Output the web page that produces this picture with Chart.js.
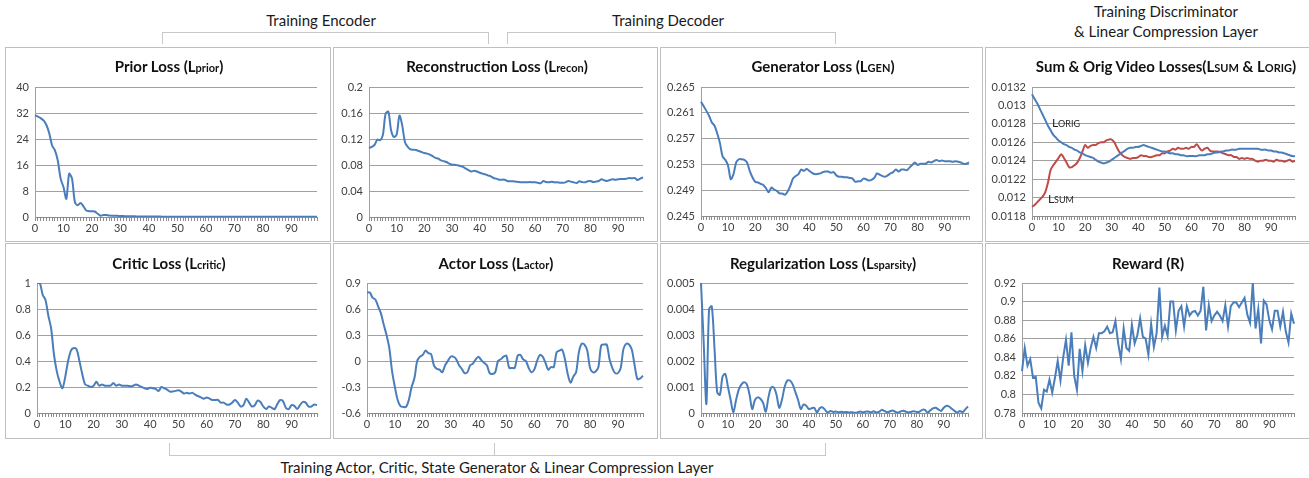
<!DOCTYPE html>
<html>
<head>
<meta charset="utf-8">
<script src="https://cdn.jsdelivr.net/npm/chart.js@4/dist/chart.umd.min.js"></script>
<style>
  body { margin: 0; width: 1309px; height: 478px; background: #fff; position: relative; overflow: hidden; font-family: Lato, sans-serif; color: #1a1a1a; }
  .panel { position: absolute; border: 1px solid #bfbfbf; box-sizing: border-box; background: #fff; }
  .panel canvas { position: absolute; left: 0; top: 0; }
  .ttl { position: absolute; transform: translateX(-50%); white-space: nowrap; font-weight: bold; font-size: 15px; line-height: 18px; color: #111; }
  .ttl span { font-size: 11px; }
  .grp { position: absolute; transform: translateX(-50%); white-space: nowrap; text-align: center; font-size: 15px; line-height: 20px; color: #1a1a1a; }
  .br { position: absolute; border: 1px solid #c8c8c8; box-sizing: border-box; }
</style>
</head>
<body>

<div class="grp" style="left:321px; top:10px;">Training Encoder</div>
<div class="grp" style="left:668px; top:10px;">Training Decoder</div>
<div class="grp" style="left:1166px; top:1px;">Training Discriminator<br>&amp; Linear Compression Layer</div>
<div class="br" style="left:162px; top:32px; width:327px; height:12px; border-bottom:none;"></div>
<div class="br" style="left:507px; top:32px; width:329px; height:12px; border-bottom:none;"></div>

<div class="panel" style="left:5px; top:47px; width:326px; height:195px;"><canvas id="c1"></canvas><div class="ttl" style="left:163px; top:9px;">Prior Loss (L<span>prior</span>)</div></div>
<div class="panel" style="left:333px; top:47px; width:325px; height:195px;"><canvas id="c2"></canvas><div class="ttl" style="left:163px; top:9px;">Reconstruction Loss (L<span>recon</span>)</div></div>
<div class="panel" style="left:660px; top:47px; width:323px; height:195px;"><canvas id="c3"></canvas><div class="ttl" style="left:162px; top:9px;">Generator Loss (L<span>GEN</span>)</div></div>
<div class="panel" style="left:985px; top:47px; width:325px; height:195px;"><canvas id="c4"></canvas><div class="ttl" style="left:180px; top:9px;">Sum &amp; Orig Video Losses(L<span>SUM</span> &amp; L<span>ORIG</span>)</div></div>

<div class="panel" style="left:5px; top:243px; width:326px; height:196px;"><canvas id="c5"></canvas><div class="ttl" style="left:163px; top:10px;">Critic Loss (L<span>critic</span>)</div></div>
<div class="panel" style="left:333px; top:243px; width:325px; height:196px;"><canvas id="c6"></canvas><div class="ttl" style="left:162px; top:10px;">Actor Loss (L<span>actor</span>)</div></div>
<div class="panel" style="left:660px; top:243px; width:323px; height:196px;"><canvas id="c7"></canvas><div class="ttl" style="left:162px; top:10px;">Regularization Loss (L<span>sparsity</span>)</div></div>
<div class="panel" style="left:985px; top:243px; width:325px; height:196px;"><canvas id="c8"></canvas><div class="ttl" style="left:162px; top:10px;">Reward (R)</div></div>

<div class="br" style="left:169px; top:443px; width:657px; height:13px; border-top:none;"></div>
<div class="br" style="left:494px; top:443px; width:1px; height:13px; border-width:0 0 0 1px;"></div>
<div class="grp" style="left:497px; top:457px;">Training Actor, Critic, State Generator &amp; Linear Compression Layer</div>

<script>
// epochs 0..99, labelled every 10
const epochs = Array.from({ length: 100 }, (_, i) => i);
const xTickLabels = [0, 10, 20, 30, 40, 50, 60, 70, 80, 90];

const priorTicks = [0, 8, 16, 24, 32, 40];
const reconTicks = [0, 0.04, 0.08, 0.12, 0.16, 0.2];
const genTicks = [0.245, 0.249, 0.253, 0.257, 0.261, 0.265];
const videoTicks = [0.0118, 0.012, 0.0122, 0.0124, 0.0126, 0.0128, 0.013, 0.0132];
const criticTicks = [0, 0.2, 0.4, 0.6, 0.8, 1];
const actorTicks = [-0.6, -0.3, 0, 0.3, 0.6, 0.9];
const sparsityTicks = [0, 0.001, 0.002, 0.003, 0.004, 0.005];
const rewardTicks = [0.78, 0.8, 0.82, 0.84, 0.86, 0.88, 0.9, 0.92];

const priorLoss = [
  31.3, 30.9, 30.4, 29.7, 28.3, 25.8, 22.0, 20.5, 17.4, 11.8,
  9.2, 5.6, 13.3, 11.8, 4.6, 3.6, 4.3, 3.3, 2.0, 1.8,
  1.8, 1.7, 1.0, 0.4, 0.6, 0.6, 0.45, 0.4, 0.4, 0.35,
  0.3, 0.28, 0.25, 0.22, 0.2, 0.2, 0.18, 0.16, 0.15, 0.15,
  0.14, 0.13, 0.13, 0.12, 0.12, 0.11, 0.11, 0.1, 0.1, 0.1,
  0.09, 0.09, 0.09, 0.08, 0.08, 0.08, 0.08, 0.07, 0.07, 0.07,
  0.07, 0.07, 0.06, 0.06, 0.06, 0.06, 0.06, 0.06, 0.05, 0.05,
  0.05, 0.05, 0.05, 0.05, 0.05, 0.05, 0.05, 0.05, 0.05, 0.05,
  0.04, 0.04, 0.04, 0.04, 0.04, 0.04, 0.04, 0.04, 0.04, 0.04,
  0.04, 0.04, 0.04, 0.04, 0.04, 0.04, 0.04, 0.04, 0.04, 0.04
];

const reconLoss = [
  0.106, 0.108, 0.111, 0.119, 0.118, 0.126, 0.159, 0.162, 0.133, 0.123,
  0.127, 0.156, 0.141, 0.115, 0.108, 0.104, 0.1035, 0.103, 0.1015, 0.100,
  0.0985, 0.0975, 0.096, 0.0935, 0.091, 0.090, 0.087, 0.086, 0.0846, 0.082,
  0.0805, 0.0805, 0.0795, 0.0785, 0.077, 0.0745, 0.072, 0.070, 0.071, 0.070,
  0.068, 0.0667, 0.0656, 0.064, 0.0626, 0.060, 0.059, 0.0574, 0.0574, 0.0574,
  0.0554, 0.0549, 0.0549, 0.0544, 0.0538, 0.0533, 0.0533, 0.0533, 0.0538, 0.0533,
  0.0533, 0.0528, 0.0518, 0.0554, 0.0538, 0.0533, 0.0544, 0.0533, 0.0533, 0.0528,
  0.0528, 0.0533, 0.0554, 0.0544, 0.0533, 0.0523, 0.0549, 0.0538, 0.0533, 0.0549,
  0.0554, 0.0538, 0.0544, 0.0554, 0.058, 0.0564, 0.0554, 0.0569, 0.058, 0.0574,
  0.058, 0.0585, 0.0585, 0.059, 0.060, 0.0595, 0.060, 0.057, 0.059, 0.061
];

const genLoss = [
  0.2627, 0.2620, 0.2613, 0.2605, 0.2595, 0.2590, 0.2578, 0.2563, 0.2542, 0.2537,
  0.2528, 0.2507, 0.2515, 0.2533, 0.2538, 0.2538, 0.2537, 0.2533, 0.2520, 0.2510,
  0.2503, 0.2502, 0.2500, 0.2498, 0.2493, 0.2487, 0.2494, 0.2491, 0.2489, 0.2485,
  0.2485, 0.2483, 0.2488, 0.2497, 0.2508, 0.2512, 0.2515, 0.2522, 0.2520, 0.2523,
  0.2520, 0.2517, 0.2515, 0.2515, 0.2516, 0.2518, 0.2519, 0.2519, 0.2517, 0.2518,
  0.2513, 0.2511, 0.2511, 0.2510, 0.2510, 0.2509, 0.2508, 0.2503, 0.2504, 0.2504,
  0.2508, 0.2507, 0.2505, 0.2506, 0.2509, 0.2516, 0.2514, 0.2512, 0.2511, 0.2513,
  0.2516, 0.2518, 0.2522, 0.2519, 0.2522, 0.2522, 0.2521, 0.2525, 0.2529, 0.2533,
  0.2529, 0.2531, 0.2531, 0.2531, 0.2534, 0.2533, 0.2535, 0.2537, 0.2535, 0.2536,
  0.2535, 0.2535, 0.2535, 0.2534, 0.2535, 0.2534, 0.2533, 0.2531, 0.2531, 0.2533
];

const origLoss = [
  0.01312, 0.01307, 0.01302, 0.01296, 0.01290, 0.01284, 0.01278, 0.01273, 0.01268, 0.01265,
  0.01262, 0.01260, 0.01258, 0.01257, 0.01255, 0.01254, 0.01252, 0.01251, 0.01249, 0.01248,
  0.01246, 0.01245, 0.01244, 0.01243, 0.01241, 0.01239, 0.01238, 0.01237, 0.01238, 0.01239,
  0.01241, 0.01243, 0.01245, 0.01247, 0.01249, 0.01251, 0.01253, 0.01254, 0.01254, 0.01255,
  0.01255, 0.01256, 0.01257, 0.01256, 0.01255, 0.01254, 0.01253, 0.01252, 0.01251, 0.01250,
  0.01250, 0.01249, 0.01248, 0.01248, 0.01247, 0.01247, 0.01246, 0.01246, 0.01245, 0.01245,
  0.01245, 0.01245, 0.01245, 0.01246, 0.01246, 0.01246, 0.01247, 0.01247, 0.01248, 0.01249,
  0.01249, 0.01250, 0.01250, 0.01251, 0.01251, 0.01252, 0.01252, 0.01252, 0.01253, 0.01253,
  0.01253, 0.01253, 0.01253, 0.01253, 0.01253, 0.01253, 0.01252, 0.01252, 0.01252, 0.01251,
  0.01251, 0.01250, 0.01250, 0.01249, 0.01249, 0.01248, 0.01247, 0.01246, 0.01245, 0.01245
];

const sumLoss = [
  0.01190, 0.01192, 0.01195, 0.01198, 0.01201, 0.01206, 0.01216, 0.01230, 0.01235, 0.01239,
  0.01243, 0.01247, 0.01243, 0.01238, 0.01233, 0.01233, 0.01235, 0.01238, 0.01243, 0.01250,
  0.01257, 0.01254, 0.01256, 0.01257, 0.01257, 0.01259, 0.01260, 0.01260, 0.01262, 0.01263,
  0.01263, 0.01260, 0.01254, 0.01249, 0.01246, 0.01244, 0.01243, 0.01242, 0.01243, 0.01243,
  0.01244, 0.01246, 0.01245, 0.01245, 0.01244, 0.01244, 0.01245, 0.01246, 0.01246, 0.01248,
  0.01248, 0.01250, 0.01251, 0.01253, 0.01252, 0.01254, 0.01253, 0.01253, 0.01254, 0.01253,
  0.01255, 0.01255, 0.01258, 0.01254, 0.01251, 0.01253, 0.01254, 0.01251, 0.01250, 0.01250,
  0.01250, 0.01249, 0.01248, 0.01247, 0.01246, 0.01246, 0.01244, 0.01244, 0.01242, 0.01243,
  0.01242, 0.01243, 0.01242, 0.01242, 0.01240, 0.01239, 0.01240, 0.01240, 0.01241, 0.01240,
  0.01240, 0.01239, 0.01241, 0.01240, 0.01240, 0.01239, 0.01240, 0.01241, 0.01239, 0.01240
];

const criticLoss = [
  1.0, 1.0, 0.91, 0.87, 0.75, 0.65, 0.45, 0.32, 0.24, 0.19,
  0.28, 0.40, 0.48, 0.50, 0.49, 0.40, 0.30, 0.22, 0.21, 0.20,
  0.21, 0.24, 0.21, 0.22, 0.21, 0.21, 0.21, 0.23, 0.21, 0.22,
  0.21, 0.21, 0.21, 0.205, 0.21, 0.22, 0.21, 0.20, 0.19, 0.185,
  0.195, 0.19, 0.185, 0.17, 0.20, 0.19, 0.18, 0.165, 0.165, 0.17,
  0.175, 0.165, 0.15, 0.155, 0.15, 0.155, 0.14, 0.13, 0.12, 0.11,
  0.12, 0.11, 0.10, 0.10, 0.10, 0.08, 0.08, 0.065, 0.065, 0.08,
  0.10, 0.08, 0.05, 0.06, 0.11, 0.08, 0.05, 0.06, 0.095, 0.085,
  0.05, 0.03, 0.05, 0.04, 0.03, 0.07, 0.10, 0.09, 0.04, 0.03,
  0.06, 0.055, 0.03, 0.06, 0.085, 0.08, 0.05, 0.05, 0.065, 0.06
];

const actorLoss = [
  0.79, 0.79, 0.73, 0.71, 0.63, 0.55, 0.42, 0.30, 0.15, -0.12,
  -0.30, -0.45, -0.52, -0.53, -0.53, -0.45, -0.30, -0.20, 0.0, 0.05,
  0.07, 0.12, 0.09, 0.08, -0.05, -0.09, -0.10, -0.13, -0.05, 0.0,
  0.05, 0.05, 0.02, -0.05, -0.09, -0.14, -0.13, -0.05, -0.03, 0.02,
  0.05, 0.01, -0.02, -0.05, -0.14, -0.15, -0.13, 0.0, 0.02, 0.05,
  0.06, -0.08, -0.08, -0.08, 0.06, 0.07, 0.02, 0.0, -0.08, -0.13,
  -0.10, 0.0, 0.07, 0.05, -0.02, -0.10, -0.07, -0.07, 0.10, 0.12,
  0.13, 0.02, -0.15, -0.25, -0.18, -0.13, 0.10, 0.20, 0.19, 0.12,
  -0.08, -0.13, -0.12, -0.07, 0.18, 0.19, 0.19, 0.02, -0.08, -0.14,
  -0.14, -0.08, 0.14, 0.20, 0.19, 0.13, -0.05, -0.21, -0.20, -0.17
];

const sparsityLoss = [
  0.0050, 0.0027, 0.00035, 0.0040, 0.0041, 0.0025, 0.0008, 0.0007, 0.0014, 0.0015,
  0.0010, 0.0005, 0.00002, 0.0005, 0.0009, 0.0011, 0.00118, 0.0011, 0.0007, 0.00015,
  0.0005, 0.0006, 0.00055, 0.0004, 0.00005, 0.0006, 0.00098, 0.00098, 0.0007, 0.0002,
  0.0005, 0.0010, 0.00125, 0.00125, 0.0011, 0.0008, 0.0005, 0.00015, 0.00032, 0.00028,
  0.00015, 0.00018, 0.0002, 0.00002, 0.00018, 0.00022, 0.00012, 0.00002, 0.00008, 0.00004,
  0.00006, 0.00003, 0.00005, 0.00003, 0.00004, 0.00002, 0.00003, 0.00001, 0.00002, 0.00006,
  0.00003, 0.00005, 0.00006, 0.00002, 0.00007, 0.00002, 0.00004, 0.00012, 0.00008, 0.00003,
  0.00006, 0.0001, 0.00005, 0.00002, 0.00006, 0.00009, 0.00005, 0.00002, 0.00005, 0.00007,
  0.00004, 0.00005, 0.00012, 0.00012, 0.00002, 0.0001, 0.00018, 0.0002, 0.00014, 0.00008,
  0.0002, 0.00028, 0.00025, 0.00016, 0.00008, 0.00002, 0.00008, 0.00003, 0.00014, 0.00025
];

const reward = [
  0.825, 0.850, 0.831, 0.838, 0.818, 0.819, 0.791, 0.785, 0.805, 0.803,
  0.816, 0.802, 0.818, 0.836, 0.815, 0.840, 0.859, 0.831, 0.867, 0.820,
  0.805, 0.849, 0.825, 0.853, 0.834, 0.850, 0.862, 0.850, 0.866, 0.866,
  0.868, 0.873, 0.866, 0.867, 0.879, 0.855, 0.838, 0.871, 0.850, 0.847,
  0.875, 0.855, 0.864, 0.882, 0.862, 0.860, 0.843, 0.876, 0.851, 0.866,
  0.915, 0.862, 0.874, 0.863, 0.900, 0.900, 0.869, 0.890, 0.895, 0.873,
  0.895, 0.885, 0.889, 0.890, 0.885, 0.890, 0.916, 0.869, 0.896, 0.879,
  0.885, 0.889, 0.885, 0.879, 0.896, 0.873, 0.895, 0.899, 0.899, 0.894,
  0.899, 0.904, 0.886, 0.877, 0.920, 0.871, 0.892, 0.855, 0.901, 0.897,
  0.880, 0.870, 0.890, 0.890, 0.873, 0.889, 0.868, 0.856, 0.887, 0.876
];

const BLUE = '#4a7ebb';
const RED = '#be4b48';
Chart.defaults.font.family = 'Lato, sans-serif';

// little "L + small caps" annotations on the sum/orig chart
const videoLabels = {
  id: 'videoLabels',
  afterDatasetsDraw(chart) {
    const { ctx, scales: { x, y } } = chart;
    const put = (big, small, xv, yv) => {
      const px = x.getPixelForValue(xv), py = y.getPixelForValue(yv);
      ctx.save();
      ctx.fillStyle = '#262626';
      ctx.textBaseline = 'alphabetic';
      ctx.font = '12px Lato, sans-serif';
      ctx.fillText(big, px, py + 4);
      const w = ctx.measureText(big).width;
      ctx.font = '9px Lato, sans-serif';
      ctx.fillText(small, px + w, py + 4);
      ctx.restore();
    };
    put('L', 'ORIG', 7.5, 0.01281);
    put('L', 'SUM', 6, 0.011983);
  }
};

function lossChart(id, box, plot, series, yTicks, tension, plugins) {
  const cv = document.getElementById(id);
  const W = box.w - 2, H = box.h - 2;
  const ox = box.x + 1, oy = box.y + 1;
  cv.width = W; cv.height = H;
  return new Chart(cv, {
    type: 'line',
    data: {
      labels: epochs,
      datasets: series.map(s => ({
        data: s.data, borderColor: s.color, borderWidth: 2,
        pointRadius: 0, tension: tension, fill: false
      }))
    },
    options: {
      responsive: false,
      animation: false,
      events: [],
      layout: { padding: { left: 0, top: plot.t - oy, right: ox + W - plot.r, bottom: 0 } },
      plugins: { legend: { display: false }, tooltip: { enabled: false } },
      scales: {
        x: {
          offset: false,
          grid: { drawOnChartArea: false, color: '#8c8c8c', tickLength: 4 },
          border: { color: '#8c8c8c' },
          ticks: {
            autoSkip: false, maxRotation: 0, padding: 1, color: '#404040', font: { size: 11 },
            callback: (v, i) => xTickLabels.includes(epochs[i]) ? String(epochs[i]) : ''
          },
          afterFit: s => { s.height = oy + H - plot.b; }
        },
        y: {
          min: yTicks[0],
          max: yTicks[yTicks.length - 1],
          afterBuildTicks: s => { s.ticks = yTicks.map(v => ({ value: v })); },
          grid: { color: '#a0a0a0', drawTicks: false },
          border: { color: '#a0a0a0' },
          ticks: { padding: 6, color: '#404040', font: { size: 11 }, callback: v => String(v) },
          afterFit: s => { s.width = plot.l - ox; }
        }
      }
    },
    plugins: plugins || []
  });
}

lossChart('c1', { x: 5, y: 47, w: 326, h: 195 }, { l: 35, r: 317, t: 87, b: 217 },
  [{ data: priorLoss, color: BLUE }], priorTicks, 0.3);
lossChart('c2', { x: 333, y: 47, w: 325, h: 195 }, { l: 369, r: 643, t: 87, b: 217 },
  [{ data: reconLoss, color: BLUE }], reconTicks, 0.3);
lossChart('c3', { x: 660, y: 47, w: 323, h: 195 }, { l: 701, r: 969, t: 87, b: 216 },
  [{ data: genLoss, color: BLUE }], genTicks, 0.3);
lossChart('c4', { x: 985, y: 47, w: 325, h: 195 }, { l: 1032, r: 1295, t: 87, b: 216 },
  [{ data: origLoss, color: BLUE }, { data: sumLoss, color: RED }], videoTicks, 0.3, [videoLabels]);

lossChart('c5', { x: 5, y: 243, w: 326, h: 196 }, { l: 37, r: 317, t: 283, b: 413 },
  [{ data: criticLoss, color: BLUE }], criticTicks, 0.3);
lossChart('c6', { x: 333, y: 243, w: 325, h: 196 }, { l: 367, r: 643, t: 283, b: 413 },
  [{ data: actorLoss, color: BLUE }], actorTicks, 0.3);
lossChart('c7', { x: 660, y: 243, w: 323, h: 196 }, { l: 701, r: 968, t: 283, b: 413 },
  [{ data: sparsityLoss, color: BLUE }], sparsityTicks, 0.3);
lossChart('c8', { x: 985, y: 243, w: 325, h: 196 }, { l: 1022, r: 1294, t: 283, b: 413 },
  [{ data: reward, color: BLUE }], rewardTicks, 0);
</script>
</body>
</html>
